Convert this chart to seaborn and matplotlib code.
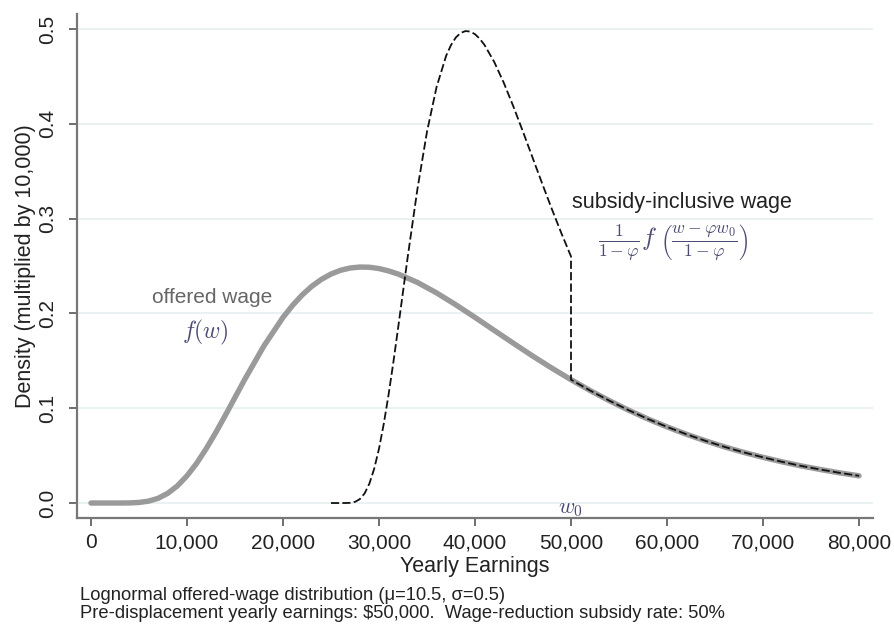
import matplotlib
matplotlib.use("Agg")
import matplotlib.pyplot as plt
import seaborn as sns
import pandas as pd

# Offered-wage density (lognormal, mu=10.5, sigma=0.5), scaled by 10,000
offered_earnings = [0, 1000, 2000, 3000, 4000, 5000, 6000, 7000, 8000, 9000,
                    10000, 11000, 12000, 13000, 14000, 16000, 18000, 20000,
                    21000, 22000, 23000, 24000, 25000, 26000, 27000, 28000,
                    29000, 30000, 31000, 32000, 34000, 36000,
                    38000, 40000, 42000, 44000, 46000, 48000, 50000, 52000,
                    54000, 56000, 58000, 60000, 62000, 64000, 66000, 68000,
                    70000, 72000, 74000, 76000, 78000, 80000]
offered_density = [0.0, 0.0, 0.0, 0.0, 0.0001, 0.0006, 0.0020, 0.0050, 0.0103,
                   0.0181, 0.0287, 0.0418, 0.0573, 0.0744, 0.0926, 0.1301,
                   0.1655, 0.1958, 0.2085, 0.2195, 0.2286, 0.2359, 0.2415,
                   0.2455, 0.2479, 0.2489, 0.2487, 0.2473, 0.2448,
                   0.2415, 0.2327, 0.2216, 0.2091, 0.1958, 0.1821, 0.1685,
                   0.1551, 0.1423, 0.1301, 0.1186, 0.1079, 0.0979, 0.0887,
                   0.0803, 0.0726, 0.0656, 0.0592, 0.0534, 0.0482, 0.0434,
                   0.0391, 0.0353, 0.0318, 0.0287]

# Subsidy-inclusive wage density (subsidy rate 50%, w0 = 50,000)
subsidy_earnings = [25000, 25500, 26000, 26500, 27000, 27500, 28000, 28500,
                    29000, 29500, 30000, 30500, 31000, 31500, 32000, 33000,
                    34000, 35000, 36000, 37000, 37500, 38000, 38500, 39000,
                    39500, 40000, 40500, 41000,
                    42000, 43000, 44000, 45000, 46000, 47000, 48000, 49000,
                    50000, 50000, 52000, 54000, 56000, 58000, 60000, 62000,
                    64000, 66000, 68000, 70000, 72000, 74000, 76000, 78000,
                    80000]
subsidy_density = [0.0, 0.0, 0.0, 0.0, 0.0002, 0.0012, 0.0041, 0.0101, 0.0205,
                   0.0362, 0.0573, 0.0837, 0.1145, 0.1487, 0.1853, 0.2602,
                   0.3310, 0.3917, 0.4389, 0.4719, 0.4830, 0.4910, 0.4958,
                   0.4978, 0.4973, 0.4945, 0.4896, 0.4830,
                   0.4653, 0.4432, 0.4182, 0.3916, 0.3642, 0.3369,
                   0.3102, 0.2845, 0.2601, 0.1301, 0.1186, 0.1079, 0.0979,
                   0.0887, 0.0803, 0.0726, 0.0656, 0.0592, 0.0534, 0.0482,
                   0.0434, 0.0391, 0.0353, 0.0318, 0.0287]

x_ticks = [0, 10000, 20000, 30000, 40000, 50000, 60000, 70000, 80000]
y_ticks = [0.0, 0.1, 0.2, 0.3, 0.4, 0.5]
w0 = 50000

sns.set_theme(style="white")
plt.rcParams["font.family"] = ["Liberation Sans", "DejaVu Sans"]
plt.rcParams["mathtext.fontset"] = "cm"

fig = plt.figure(figsize=(8.95, 6.26), dpi=100)
ax = fig.add_axes([77 / 895, 1 - 518 / 626, (873 - 77) / 895, (518 - 14) / 626])

offered = pd.DataFrame({"earnings": offered_earnings, "density": offered_density})
subsidy = pd.DataFrame({"earnings": subsidy_earnings, "density": subsidy_density})

# horizontal grid
for yv in y_ticks:
    ax.axhline(yv, color="#e6eff1", lw=1.2, zorder=0)

sns.lineplot(data=offered, x="earnings", y="density", ax=ax, color="#9a9a9a",
             lw=3.9, estimator=None, sort=False, solid_capstyle="round",
             solid_joinstyle="round", zorder=2)
sns.lineplot(data=subsidy, x="earnings", y="density", ax=ax, color="#111111",
             lw=1.3, estimator=None, sort=False, zorder=3,
             dashes=False, linestyle=(0, (4.5, 1.8)))

ax.set_xlim(-1458, 81458)
ax.set_ylim(-0.0158, 0.5158)
ax.set_xticks(x_ticks)
ax.set_xticklabels([f"{v:,}" for v in x_ticks])
ax.set_yticks(y_ticks)
ax.set_yticklabels([f"{v:.1f}" for v in y_ticks], rotation=90, va="center")

for side in ["top", "right"]:
    ax.spines[side].set_visible(False)
for side in ["left", "bottom"]:
    ax.spines[side].set_color("#777777")
    ax.spines[side].set_linewidth(1.6)

ax.tick_params(axis="both", which="major", direction="out", length=6,
               width=1.2, color="#555555", labelsize=15, labelcolor="#222222",
               left=True, bottom=True)
ax.tick_params(axis="y", pad=8)
ax.tick_params(axis="x", pad=5)

ax.set_xlabel("Yearly Earnings", fontsize=15.5, color="#222222", labelpad=3)
ax.set_ylabel("Density (multiplied by 10,000)", fontsize=15.5, color="#222222",
              labelpad=2)

# curve annotations
ax.text(12600, 0.217, "offered wage", fontsize=15, color="#666666",
        ha="center", va="center")
ax.text(11900, 0.180, r"$f(w)$", fontsize=17, color="#4b4b73",
        ha="center", va="center")
ax.text(61600, 0.3175, "subsidy-inclusive wage", fontsize=15.5, color="#222222",
        ha="center", va="center")
ax.text(60700, 0.275,
        r"$\frac{1}{1-\varphi}f\ \left(\frac{w-\varphi w_0}{1-\varphi}\right)$",
        fontsize=18, color="#4b4b73", ha="center", va="center")
ax.text(w0, -0.006, r"$w_0$", fontsize=16, color="#4b4b73",
        ha="center", va="center")

fig.text(80 / 895, 1 - 595 / 626,
         "Lognormal offered-wage distribution (\u03bc=10.5, \u03c3=0.5)",
         fontsize=13.2, color="#222222", ha="left", va="center")
fig.text(80 / 895, 1 - 613 / 626,
         "Pre-displacement yearly earnings: $50,000.  Wage-reduction subsidy rate: 50%",
         fontsize=13.2, color="#222222", ha="left", va="center")

fig.savefig("out.png", dpi=100, facecolor="white")
